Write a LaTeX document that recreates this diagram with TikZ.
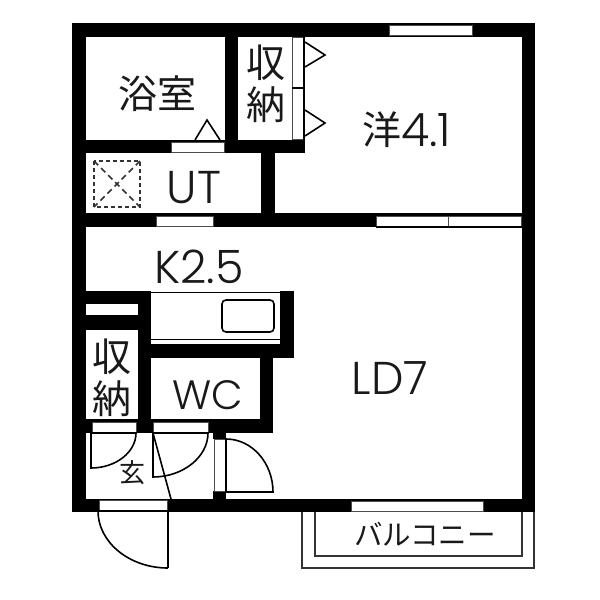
\documentclass[tikz,border=0pt]{standalone}
\usepackage{fontspec}
\newfontfamily\jpfont{Noto Sans CJK JP}
\newfontfamily\latinfont{Poppins Light}
\tikzset{
  wall/.style={fill=black, draw=none},
  opening/.style={fill=white, draw=black!70, line width=.8pt},
  thinline/.style={draw=black, line width=1.6pt},
  jplabel/.style={inner sep=0pt, text=black!90, font=\jpfont\fontsize{39}{41}\selectfont},
  latinlabel/.style={inner sep=0pt, text=black!90, font=\latinfont\fontsize{46}{48}\selectfont}
}
\begin{document}
\begin{tikzpicture}[x=1pt, y=-1pt]
        \useasboundingbox (0,0) rectangle (600,600);

        % balcony
        \draw[thinline, draw=black!80] (302,505) -- (302,568) -- (534,568) -- (534,505);
        \draw[thinline, draw=black!80] (315,505) -- (315,556) -- (522,556) -- (522,505);

        % walls
        \foreach \xa/\ya/\xb/\yb in {72/23/535/37, 72/23/86/512, 522/23/535/512, 72/499/535/512,
            225/37/238/153, 86/140/305/153, 261/153/275/227, 86/213/522/227,
            72/291/151/304, 86/315/151/330, 138/291/151/433, 280/291/294/358, 138/344/294/358,
            260/358/273/433, 86/419/273/433, 213/433/226/439, 213/491/226/499}
          \fill[wall] (\xa,\ya) rectangle (\xb,\yb);

        % windows and door openings
        \foreach \xa/\ya/\xb/\yb in {389/25/472/35, 376/216/448/226, 448/216/521/226, 351/501/483/511,
            171/142/224/152, 156/216/213/226, 92/422/136/433, 153/422/208/433,
            99/500/167/511, 214/439/226/491}
          \draw[opening] (\xa,\ya) rectangle (\xb,\yb);
        \draw[thinline] (376,227) -- (522,227);

        % closet doors
        \draw[opening, fill=white] (292,37) rectangle (304,139);
        \draw[thinline] (292,88) -- (304,88);
        \draw[thinline] (304,37) -- (304,140);
        \draw[thinline] (305,42) -- (325,55) -- (305,67);
        \draw[thinline] (305,110) -- (325,123) -- (305,136);
        \draw[thinline] (195,140) -- (207,120) -- (220,140);

        % door leaves
        \draw[thinline] (91,433) -- (137,433);
        \draw[thinline] (136,433) .. controls (136,452) and (116,468) .. (91,468) -- (91,433);
        \draw[thinline] (153,433) -- (209,433);
        \draw[thinline] (208,433) .. controls (208,457) and (183,477) .. (153,477) -- (153,433);
        \draw[thinline] (153,433) -- (171,499);
        \draw[thinline] (226,439) .. controls (252,439) and (273,463) .. (273,492) -- (226,492) -- (226,439);
        \draw[thinline] (98,511) -- (168,511) -- (168,568);
        \draw[thinline] (98,511) .. controls (98,542) and (129,568) .. (168,568);

        % kitchen counter
        \draw[thinline, line width=1pt] (151,292) -- (280,292);
        \draw[thinline, line width=1pt] (151,339) -- (280,339);
        \draw[thinline, rounded corners=4pt] (222,300) rectangle (274,332);

        % shower pan
        \draw[line width=2.2pt, dash pattern=on 4pt off 3pt, black!80] (94,161) rectangle (140,207);
        \draw[line width=1.6pt, dash pattern=on 6pt off 4pt, black!80] (94,161) -- (140,207);
        \draw[line width=1.6pt, dash pattern=on 6pt off 4pt, black!80] (140,161) -- (94,207);

        \node[jplabel] (bath) at (157,94) {浴室};
        \node[jplabel, align=center] (closetA) at (266,84) {収\\[1pt]納};
        \node[jplabel, align=center] (closetB) at (112,378) {収\\[1pt]納};
        \node[jplabel] (western) at (382,130) {洋};
        \node[latinlabel, anchor=west] (westernsize) at (401,130) {4.1};
        \node[latinlabel] (ut) at (194,188) {UT};
        \node[latinlabel] (kitchen) at (199,267) {K2.5};
        \node[latinlabel] (ld) at (390,378) {LD7};
        \node[latinlabel, font=\latinfont\fontsize{41}{43}\selectfont] (wc) at (208,395) {WC};
        \node[jplabel, font=\jpfont\fontsize{26}{28}\selectfont] (entry) at (132,473) {玄};
        \node[jplabel, font=\jpfont\fontsize{28.5}{30}\selectfont] (balcony) at (425,534) {バルコニー};
      \end{tikzpicture}
\end{document}
